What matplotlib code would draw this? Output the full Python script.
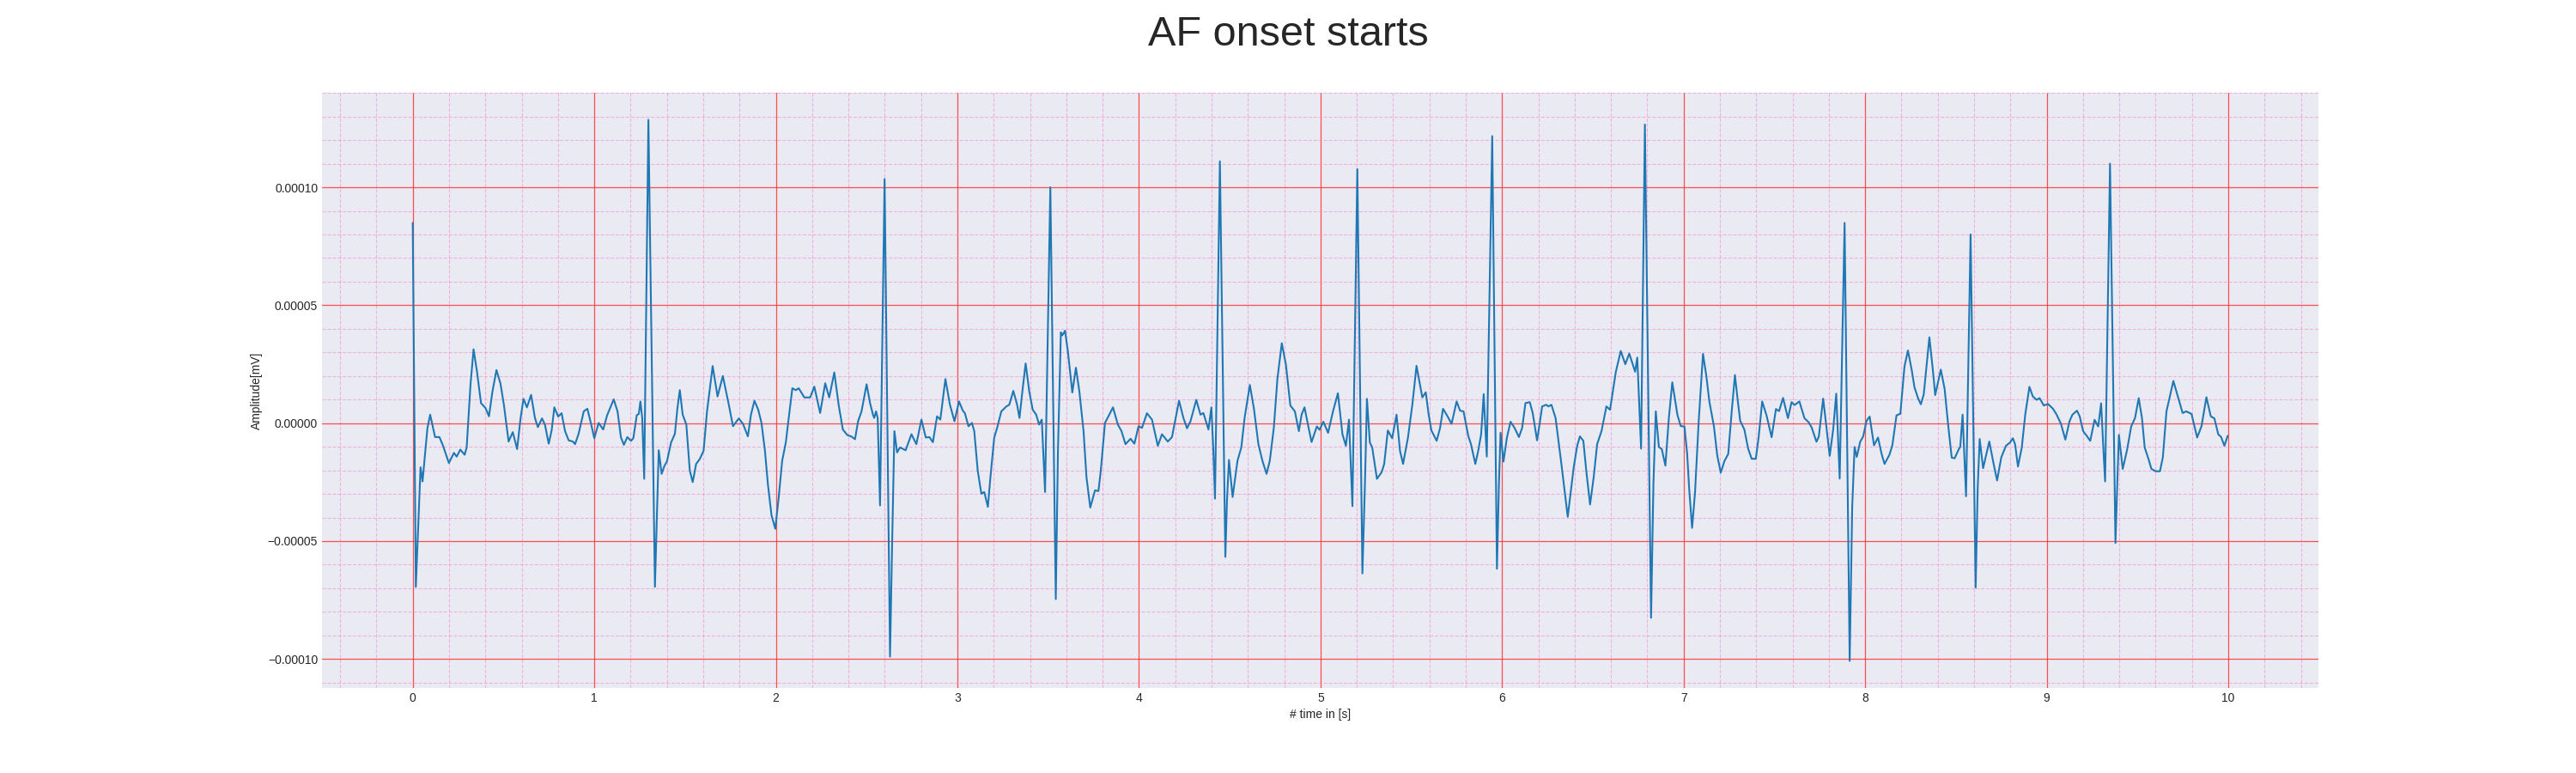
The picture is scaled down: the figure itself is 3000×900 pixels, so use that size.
import matplotlib
matplotlib.use("Agg")
import matplotlib.pyplot as plt
from matplotlib.ticker import MultipleLocator, AutoMinorLocator
import numpy as np

# ECG trace (time in s, amplitude in units of 1e-5 mV)
time_s = [
    0.000, 0.017, 0.043, 0.054, 0.081, 0.096, 0.123, 0.147, 0.167, 0.199,
    0.227, 0.242, 0.262, 0.286, 0.297, 0.318, 0.335, 0.354, 0.376, 0.401,
    0.420, 0.439, 0.461, 0.483, 0.502, 0.528, 0.551, 0.575, 0.594, 0.610,
    0.629, 0.652, 0.673, 0.689, 0.712, 0.728, 0.749, 0.765, 0.780, 0.801,
    0.820, 0.839, 0.859, 0.882, 0.894, 0.913, 0.942, 0.962, 0.981, 1.000,
    1.024, 1.049, 1.071, 1.087, 1.107, 1.128, 1.147, 1.163, 1.182, 1.202,
    1.215, 1.234, 1.245, 1.254, 1.264, 1.275, 1.298, 1.334, 1.345, 1.355,
    1.371, 1.387, 1.400, 1.423, 1.444, 1.458, 1.471, 1.487, 1.507, 1.526,
    1.542, 1.561, 1.581, 1.602, 1.621, 1.652, 1.679, 1.708, 1.741, 1.764,
    1.796, 1.819, 1.846, 1.863, 1.882, 1.903, 1.921, 1.940, 1.956, 1.976,
    1.997, 2.016, 2.035, 2.055, 2.071, 2.091, 2.110, 2.126, 2.157, 2.189,
    2.212, 2.244, 2.272, 2.294, 2.322, 2.346, 2.369, 2.393, 2.417, 2.436,
    2.453, 2.472, 2.500, 2.519, 2.535, 2.542, 2.552, 2.561, 2.574, 2.599,
    2.629, 2.640, 2.653, 2.668, 2.684, 2.715, 2.747, 2.774, 2.802, 2.826,
    2.846, 2.865, 2.888, 2.906, 2.934, 2.959, 2.984, 3.009, 3.030, 3.041,
    3.061, 3.080, 3.093, 3.112, 3.132, 3.148, 3.168, 3.182, 3.203, 3.219,
    3.242, 3.270, 3.286, 3.308, 3.329, 3.342, 3.360, 3.376, 3.396, 3.415,
    3.434, 3.450, 3.465, 3.483, 3.512, 3.542, 3.554, 3.570, 3.578, 3.593,
    3.609, 3.633, 3.653, 3.672, 3.695, 3.711, 3.732, 3.758, 3.777, 3.790,
    3.813, 3.832, 3.857, 3.884, 3.904, 3.926, 3.954, 3.975, 3.998, 4.017,
    4.044, 4.072, 4.104, 4.127, 4.159, 4.182, 4.221, 4.245, 4.265, 4.284,
    4.316, 4.339, 4.355, 4.383, 4.399, 4.410, 4.419, 4.446, 4.476, 4.485,
    4.496, 4.516, 4.543, 4.564, 4.582, 4.611, 4.633, 4.658, 4.680, 4.703,
    4.721, 4.743, 4.763, 4.787, 4.810, 4.834, 4.859, 4.881, 4.896, 4.912,
    4.931, 4.951, 4.980, 4.995, 5.016, 5.042, 5.069, 5.096, 5.121, 5.140,
    5.157, 5.176, 5.203, 5.231, 5.245, 5.256, 5.272, 5.285, 5.311, 5.337,
    5.351, 5.371, 5.395, 5.419, 5.438, 5.455, 5.482, 5.506, 5.529, 5.545,
    5.561, 5.580, 5.596, 5.611, 5.640, 5.659, 5.675, 5.700, 5.722, 5.750,
    5.769, 5.788, 5.814, 5.829, 5.853, 5.869, 5.885, 5.899, 5.916, 5.946,
    5.972, 5.983, 5.992, 6.008, 6.027, 6.047, 6.069, 6.093, 6.111, 6.129,
    6.153, 6.169, 6.193, 6.208, 6.221, 6.243, 6.256, 6.272, 6.295, 6.327,
    6.362, 6.395, 6.414, 6.429, 6.448, 6.464, 6.485, 6.505, 6.524, 6.548,
    6.575, 6.595, 6.627, 6.654, 6.679, 6.701, 6.733, 6.745, 6.766, 6.787,
    6.821, 6.834, 6.847, 6.864, 6.880, 6.900, 6.919, 6.938, 6.966, 6.984,
    7.005, 7.020, 7.031, 7.047, 7.063, 7.083, 7.107, 7.126, 7.142, 7.167,
    7.186, 7.205, 7.225, 7.246, 7.265, 7.283, 7.299, 7.312, 7.335, 7.356,
    7.375, 7.398, 7.414, 7.433, 7.457, 7.485, 7.509, 7.526, 7.548, 7.575,
    7.595, 7.611, 7.638, 7.666, 7.690, 7.706, 7.732, 7.745, 7.769, 7.784,
    7.805, 7.824, 7.841, 7.860, 7.887, 7.915, 7.929, 7.942, 7.954, 7.973,
    7.989, 8.008, 8.025, 8.049, 8.071, 8.091, 8.107, 8.134, 8.150, 8.173,
    8.194, 8.217, 8.236, 8.257, 8.272, 8.291, 8.307, 8.323, 8.354, 8.375,
    8.386, 8.417, 8.438, 8.458, 8.477, 8.493, 8.517, 8.524, 8.537, 8.556,
    8.581, 8.609, 8.620, 8.631, 8.650, 8.684, 8.708, 8.727, 8.750, 8.776,
    8.798, 8.814, 8.826, 8.842, 8.863, 8.882, 8.905, 8.924, 8.945, 8.961,
    8.984, 9.008, 9.035, 9.055, 9.079, 9.103, 9.126, 9.142, 9.167, 9.182,
    9.201, 9.221, 9.240, 9.264, 9.284, 9.300, 9.313, 9.322, 9.349, 9.379,
    9.389, 9.398, 9.419, 9.442, 9.466, 9.487, 9.507, 9.525, 9.540, 9.561,
    9.577, 9.600, 9.624, 9.640, 9.660, 9.698, 9.724, 9.749, 9.769, 9.798,
    9.829, 9.853, 9.880, 9.904, 9.924, 9.945, 9.961, 9.979, 9.997,
]

amp_e5 = [
    8.49, -6.94, -1.87, -2.47, -0.20, 0.36, -0.59, -0.59, -0.96, -1.69,
    -1.26, -1.42, -1.12, -1.34, -1.03, 1.62, 3.13, 2.18, 0.85, 0.64,
    0.29, 1.34, 2.25, 1.69, 0.78, -0.78, -0.38, -1.10, 0.22, 1.03,
    0.67, 1.20, 0.22, -0.17, 0.20, -0.06, -0.87, -0.31, 0.67, 0.28,
    0.42, -0.34, -0.73, -0.78, -0.89, -0.47, 0.50, 0.61, 0.01, -0.64,
    0.01, -0.27, 0.34, 0.64, 1.01, 0.50, -0.61, -0.92, -0.59, -0.75,
    -0.64, 0.34, 0.39, 0.92, 0.22, -2.36, 12.86, -6.94, -3.97, -1.15,
    -2.15, -1.80, -1.63, -0.82, -0.45, 0.64, 1.40, 0.36, -0.06, -2.01,
    -2.50, -1.73, -1.52, -1.17, 0.50, 2.42, 1.13, 2.00, 0.78, -0.13,
    0.20, -0.03, -0.56, 0.36, 0.95, 0.57, 0.01, -1.17, -2.57, -3.90,
    -4.48, -3.13, -1.59, -0.82, 0.22, 1.48, 1.40, 1.48, 1.09, 1.09,
    1.55, 0.43, 1.69, 1.09, 2.15, 0.78, -0.27, -0.50, -0.57, -0.68,
    0.08, 0.50, 1.65, 0.85, 0.36, 0.22, 0.50, 0.22, -3.49, 10.35,
    -9.90, -5.36, -0.34, -1.24, -1.03, -1.15, -0.47, -0.89, 0.15, -0.61,
    -0.59, -0.81, 0.29, 0.15, 1.87, 0.78, 0.08, 0.92, 0.53, 0.43,
    -0.13, 0.01, -0.34, -2.01, -2.99, -2.92, -3.55, -2.29, -0.61, -0.20,
    0.50, 0.71, 0.78, 1.37, 0.78, 0.22, 1.48, 2.53, 1.34, 0.57,
    0.36, -0.06, 0.15, -2.92, 10.00, -7.46, -1.17, 3.85, 3.72, 3.92,
    3.02, 1.30, 2.35, 1.34, -0.34, -2.29, -3.58, -2.85, -2.88, -2.01,
    0.01, 0.29, 0.67, -0.06, -0.34, -0.89, -0.66, -0.87, -0.13, -0.20,
    0.42, 0.15, -0.96, -0.47, -0.78, -0.59, 0.95, 0.22, -0.22, 0.08,
    0.99, 0.36, 0.43, -0.27, 0.67, -1.17, -3.20, 11.10, -5.67, -3.27,
    -1.56, -3.13, -1.59, -1.03, 0.22, 1.62, 0.64, -0.89, -1.59, -2.15,
    -1.59, -0.20, 1.90, 3.39, 2.46, 0.75, 0.50, -0.34, 0.36, 0.67,
    -0.06, -0.80, -0.14, -0.28, 0.06, -0.41, 0.50, 1.27, -0.47, -0.96,
    0.15, -3.52, 10.77, -6.37, -2.57, 1.03, -0.82, -1.03, -2.36, -2.08,
    -1.73, -0.31, -0.64, 0.36, -1.17, -1.73, -0.61, 0.78, 2.43, 1.76,
    1.09, 1.31, 0.36, -0.31, -0.75, -0.20, 0.61, 0.29, -0.03, 0.92,
    0.53, 0.50, -0.54, -0.89, -1.73, -1.17, -0.47, 1.23, -1.42, 12.17,
    -6.17, -2.57, -0.41, -1.63, -0.61, 0.06, -0.20, -0.59, -0.20, 0.85,
    0.89, 0.43, -0.73, 0.01, 0.71, 0.78, 0.71, 0.78, 0.22, -1.73,
    -3.97, -1.87, -0.96, -0.56, -0.75, -2.01, -3.45, -2.29, -0.89, -0.34,
    0.71, 0.57, 2.18, 3.06, 2.50, 2.95, 2.18, 2.78, -1.08, 12.66,
    -8.25, -2.57, 0.50, -1.01, -1.10, -1.80, 0.22, 1.73, 0.36, -0.12,
    -0.15, -1.31, -2.80, -4.44, -2.95, 0.03, 2.94, 1.97, 0.92, -0.12,
    -1.39, -2.10, -1.61, -1.31, 0.48, 2.04, 0.92, 0.10, -0.27, -1.09,
    -1.51, -1.51, -0.57, 0.92, 0.33, -0.60, 0.60, 0.51, 1.07, 0.21,
    0.89, 0.77, 0.92, 0.21, 0.03, -0.19, -0.79, -0.57, 1.04, 0.03,
    -1.39, -0.27, 1.25, -2.35, 8.49, -10.08, -3.55, -1.01, -1.43, -0.79,
    -0.57, 0.10, 0.28, -0.94, -0.61, -1.31, -1.73, -1.34, -0.94, 0.33,
    0.40, 2.41, 3.08, 2.24, 1.52, 1.07, 0.80, 1.22, 3.64, 2.12,
    1.19, 2.27, 1.45, -0.12, -1.46, -1.49, -1.09, -1.01, 0.36, -3.10,
    8.00, -6.97, -2.80, -0.67, -1.91, -0.78, -1.73, -2.43, -1.45, -0.96,
    -0.82, -0.64, -0.89, -1.84, -1.03, 0.36, 1.54, 1.13, 0.99, 1.06,
    0.75, 0.81, 0.61, 0.36, -0.03, -0.70, 0.08, 0.36, 0.53, 0.29,
    -0.34, -0.54, -0.75, 0.14, -0.14, 0.84, -1.17, -2.47, 11.00, -5.08,
    -2.57, -0.50, -1.94, -1.17, -0.13, 0.22, 1.06, 0.22, -1.03, -1.52,
    -1.94, -2.04, -2.04, -1.45, 0.50, 1.79, 1.09, 0.43, 0.50, 0.39,
    -0.61, -0.13, 1.10, 0.29, 0.20, -0.47, -0.59, -0.96, -0.54,
]

amp_scale = 1e-5
title_text = "AF onset starts"
x_label = "# time in [s]"
y_label = "Amplitude[mV]"

plt.style.use("seaborn-v0_8-darkgrid")
plt.rcParams["font.family"] = ["Liberation Sans", "DejaVu Sans"]

fig, ax = plt.subplots(figsize=(30, 9), dpi=100)
amp = np.array(amp_e5) * amp_scale
ax.plot(time_s, amp, color="#1f77b4", linewidth=1.5)

ax.xaxis.set_major_locator(MultipleLocator(1))
ax.xaxis.set_minor_locator(AutoMinorLocator(5))
ax.yaxis.set_major_locator(MultipleLocator(5e-5))
ax.yaxis.set_minor_locator(AutoMinorLocator(5))
ax.grid(which="major", color="#ff3333", linestyle="-", linewidth=0.9, alpha=0.85)
ax.grid(which="minor", color="#f08ccc", linestyle="--", linewidth=0.8, alpha=0.6)

ax.set_xlabel(x_label, fontsize=10, color="#262626")
ax.set_ylabel(y_label, fontsize=10, color="#262626")
ax.tick_params(labelsize=10, labelcolor="#262626")
fig.suptitle(title_text, fontsize=35, color="#262626")

fig.savefig("out.png", dpi=100)
